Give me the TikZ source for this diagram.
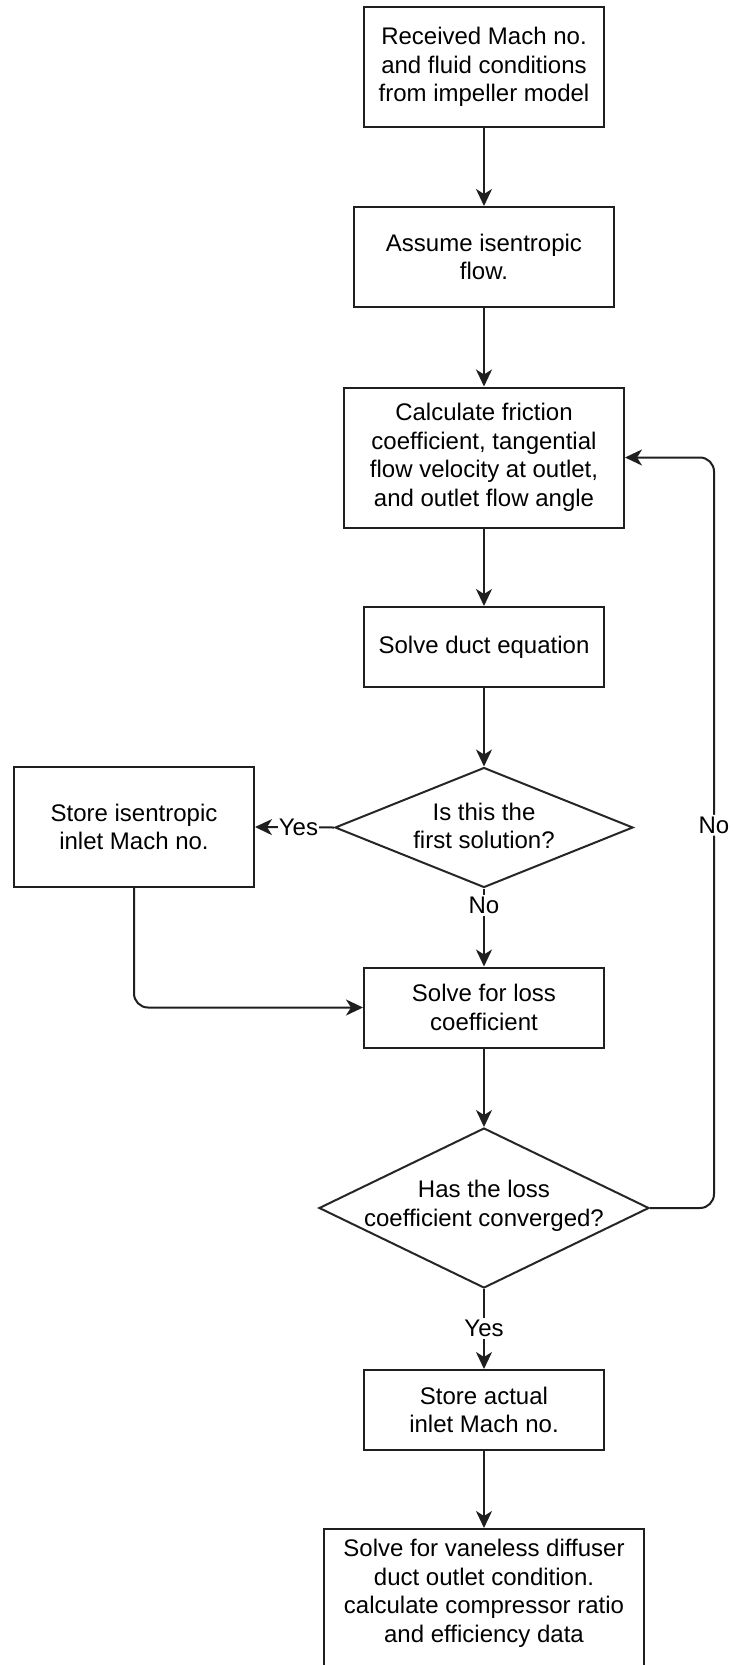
\documentclass[tikz,border=0pt]{standalone}
\usepackage{fontspec}
\setmainfont{Liberation Sans}
\usetikzlibrary{arrows.meta,shapes.geometric}
\begin{document}
\begin{tikzpicture}[x=1pt,y=-1pt,
  every node/.style={font=\fontsize{24}{28.5}\selectfont, text=black},
  box/.style={draw=black!88, line width=2pt, rectangle, inner sep=0pt, align=center, minimum width=240pt, minimum height=80pt},
  dia/.style={draw=black!85, line width=2pt, diamond, inner sep=0pt},
  txt/.style={align=center, inner sep=0pt},
  conn/.style={draw=black!88, line width=2pt, -{Stealth[length=17pt,width=16pt,inset=5pt]}},
  lbl/.style={fill=white, inner xsep=1pt, inner ysep=2pt}
]
\useasboundingbox (0,0) rectangle (733,1665);
\fill[white] (0,0) rectangle (733,1665);
\clip (0,0) rectangle (733,1665);

\node[box, minimum height=120pt] (b1) at (484,67) {Received Mach no.\\and fluid conditions\\from impeller model};
\node[box, minimum width=260pt, minimum height=100pt] (b2) at (484,257) {Assume isentropic\\flow.};
\node[box, minimum width=280pt, minimum height=140pt] (b3) at (484,457.5) {Calculate friction\\coefficient, tangential\\flow velocity at outlet,\\and outlet flow angle};
\node[box] (b4) at (484,647) {Solve duct equation};
\node[dia, minimum width=298pt, minimum height=120pt] (d1) at (484,827.5) {};
\node[txt] (d1t) at (484,826) {Is this the\\first solution?};
\node[box, minimum height=120pt] (s) at (134,827) {Store isentropic\\inlet Mach no.};
\node[box] (b5) at (484,1007.5) {Solve for loss\\coefficient};
\node[dia, minimum width=330pt, minimum height=160pt] (d2) at (484,1208) {};
\node[txt] (d2t) at (484,1206) {Has the loss\\coefficient converged?};
\node[box] (b6) at (484,1410) {Store actual\\inlet Mach no.};
\node[box, minimum width=320pt, minimum height=180pt, anchor=north] (b7) at (484,1528) {};
\node[txt] (b7t) at (484,1593.5) {Solve for vaneless diffuser\\duct outlet condition.\\calculate compressor ratio\\and efficiency data};

\coordinate (lp) at (714,457.5);

\draw[conn] (b1.south) -- (b2.north);
\draw[conn] (b2.south) -- (b3.north);
\draw[conn] (b3.south) -- (b4.north);
\draw[conn] (b4.south) -- (d1.north);
\draw[conn] (d1.west) -- node[lbl, pos=0.45] (ly1) {Yes} (s.east);
\draw[conn] (d1.south) -- node[lbl, pos=0.22] (ln1) {No} (b5.north);
\draw[conn, rounded corners=14pt] (s.south) |- (b5.west);
\draw[conn] (b5.south) -- (d2.north);
\draw[conn, rounded corners=14pt] (d2.east) -| node[lbl, pos=0.755] (ln2) {No} (lp) -- (b3.east);
\draw[conn] (d2.south) -- node[lbl, pos=0.49] (ly2) {Yes} (b6.north);
\draw[conn] (b6.south) -- (b7.north);
\end{tikzpicture}
\end{document}
